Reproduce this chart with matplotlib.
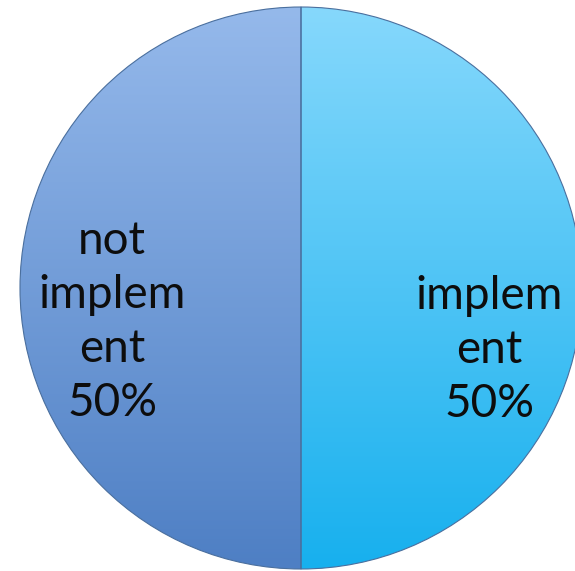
import numpy as np
import matplotlib.pyplot as plt
from matplotlib.colors import LinearSegmentedColormap

labels = ['implem\nent', 'not\nimplem\nent']
values = [50, 50]
top_colors = ['#86d8fc', '#95b9eb']
bottom_colors = ['#17b0ee', '#4e7fc4']

W, H = 575, 571
fig = plt.figure(figsize=(W / 100, H / 100), dpi=100)
ax = fig.add_axes([0, 0, 1, 1])

cx, cy, r = 301, H - 288, 281
wedges, _ = ax.pie(values, center=(cx, cy), radius=r, startangle=90,
                   counterclock=False,
                   wedgeprops=dict(edgecolor='#4a6f9e', linewidth=0.8))

grad = np.linspace(0, 1, 256).reshape(-1, 1)
for w, c0, c1 in zip(wedges, top_colors, bottom_colors):
    w.set_facecolor('none')
    cmap = LinearSegmentedColormap.from_list('g', [c1, c0])
    im = ax.imshow(grad, cmap=cmap, origin='lower', aspect='auto',
                   extent=[cx - r, cx + r, cy - r, cy + r], zorder=0.5)
    im.set_clip_path(w)

pcts = ['%d%%' % v for v in values]
text_pos = [(489, H - 350), (112, H - 322)]
for lab, p, (tx, ty) in zip(labels, pcts, text_pos):
    ax.text(tx, ty, lab + '\n' + p, ha='center', va='center',
            fontsize=33, family='Lato', linespacing=1.36, color='#0d0d0d')

ax.set_xlim(0, W)
ax.set_ylim(0, H)
ax.set_aspect('auto')
ax.axis('off')

fig.savefig('out.png', dpi=100, facecolor='white')
